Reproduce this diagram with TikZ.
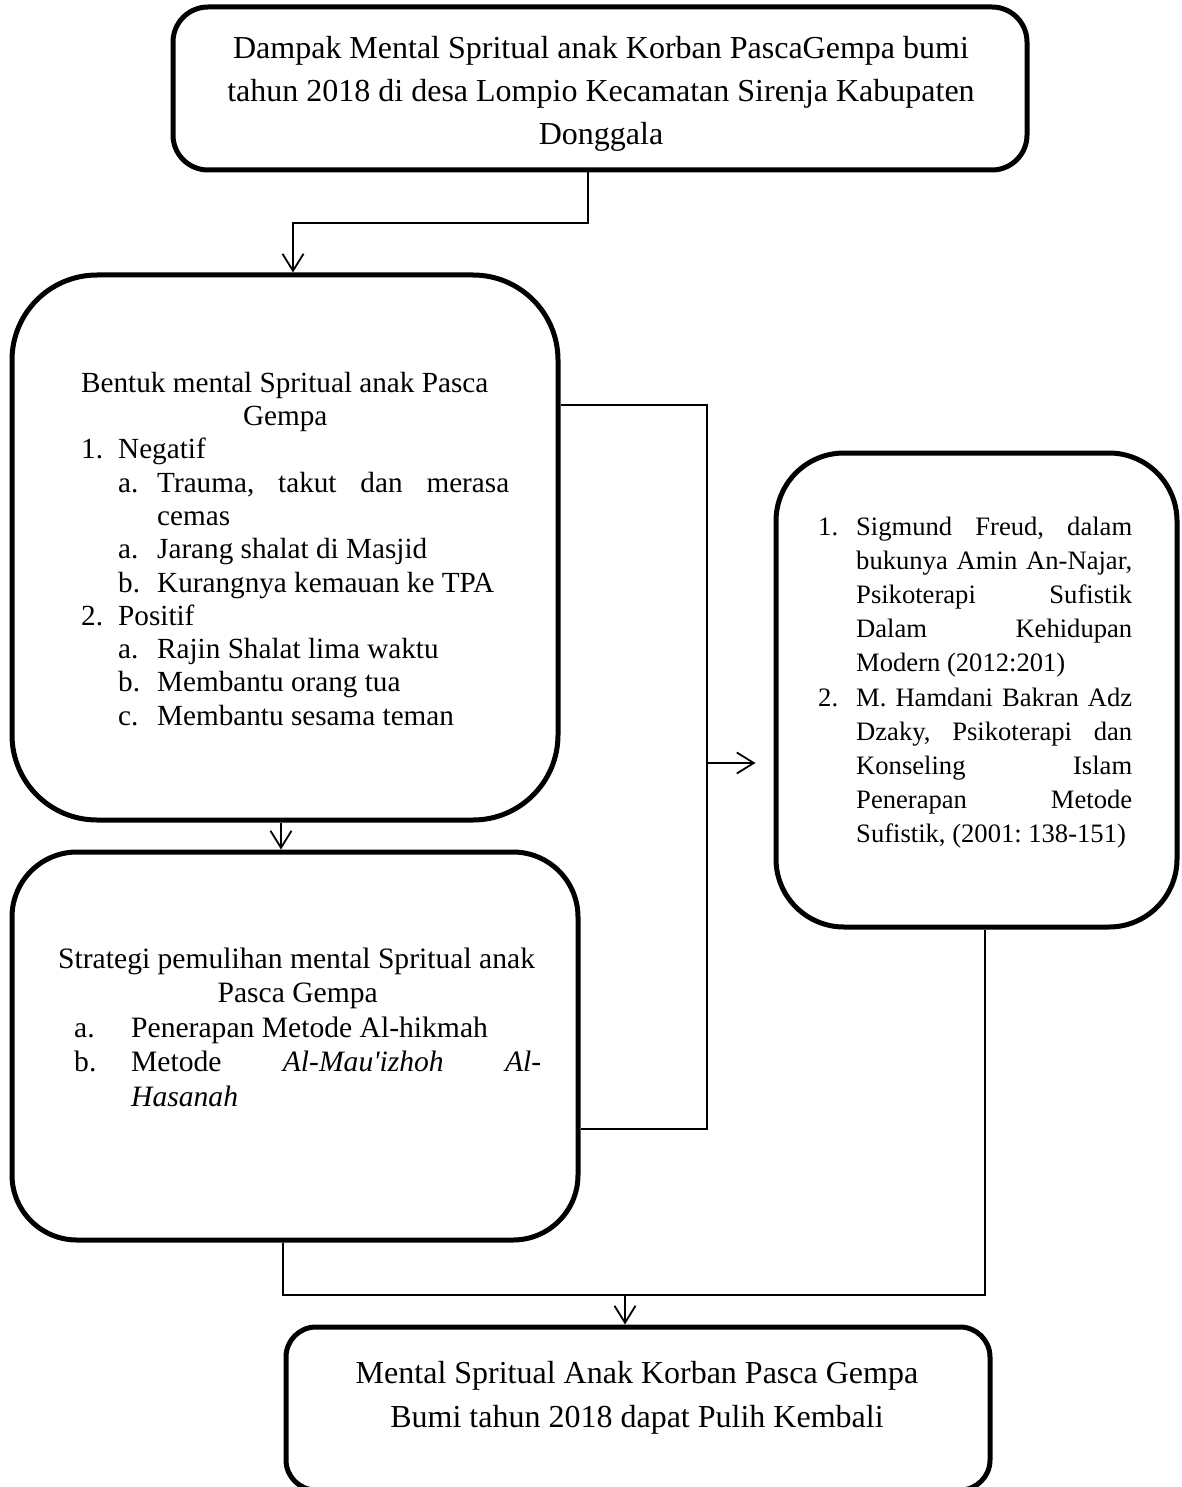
\documentclass[tikz,border=0pt]{standalone}
\usepackage{fontspec}
\setmainfont{Liberation Serif}
\usetikzlibrary{arrows.meta}
\frenchspacing

\tikzset{
  roundbox/.style={draw, line width=5pt, inner sep=0pt},
  wire/.style={line width=1.8pt},
  wirearrow/.style={wire, -{Straight Barb[length=17pt,width=21pt]}},
  boxtext/.style={inner sep=0pt, execute at begin node={\spaceskip=0pt\xspaceskip=0pt}},
}

\begin{document}
\begin{tikzpicture}[x=1pt,y=-1pt]
            \useasboundingbox (0,0) rectangle (1181,1487);
            \node[roundbox, rounded corners=35pt, minimum width=854pt, minimum height=163pt] (dampak) at (600,88.5) {};
            \node[roundbox, rounded corners=85pt, minimum width=546pt, minimum height=545pt] (bentuk) at (285,547.5) {};
            \node[roundbox, rounded corners=65pt, minimum width=566pt, minimum height=388pt] (strategi) at (295,1046) {};
            \node[roundbox, rounded corners=68pt, minimum width=401pt, minimum height=474pt] (teori) at (976.5,690) {};
            \node[roundbox, rounded corners=30pt, minimum width=704pt, minimum height=163pt] (pulih) at (638,1408.5) {};
            \node[boxtext, text width=854pt, anchor=north, font=\fontsize{32}{43}\selectfont] (dampakTxt) at (601,27.9)
                {\centering\strut Dampak Mental Spritual anak Korban PascaGempa bumi\\
                 tahun 2018 di desa Lompio Kecamatan Sirenja Kabupaten\\
                 Donggala\par};
            \node[boxtext, text width=440pt, anchor=north west, font=\fontsize{29.2}{33.3}\selectfont] (bentukTxt) at (81,368.7)
                {\strut Bentuk mental Spritual anak Pasca\\
                 \makebox[408pt][c]{Gempa}\\
                 \makebox[37pt][l]{1.}Negatif\\
                 \hspace*{37pt}\makebox[39pt][l]{a.}\makebox[352pt][s]{Trauma, takut dan merasa}\\
                 \hspace*{76pt}cemas\\
                 \hspace*{37pt}\makebox[39pt][l]{a.}Jarang shalat di Masjid\\
                 \hspace*{37pt}\makebox[39pt][l]{b.}Kurangnya kemauan ke TPA\\
                 \makebox[37pt][l]{2.}Positif\\
                 \hspace*{37pt}\makebox[39pt][l]{a.}Rajin Shalat lima waktu\\
                 \hspace*{37pt}\makebox[39pt][l]{b.}Membantu orang tua\\
                 \hspace*{37pt}\makebox[39pt][l]{c.}Membantu sesama teman};
            \node[boxtext, text width=510pt, anchor=north west, font=\fontsize{29.6}{34.5}\selectfont] (strategiTxt) at (58,943.9)
                {\strut Strategi pemulihan mental Spritual anak\\
                 \makebox[479pt][c]{Pasca Gempa}\\
                 \hspace*{16pt}\makebox[57pt][l]{a.}Penerapan Metode Al-hikmah\\
                 \hspace*{16pt}\makebox[57pt][l]{b.}\makebox[410pt][s]{Metode \textit{Al-Mau\textquotesingle izhoh} \textit{Al-}}\\
                 \hspace*{73pt}\textit{Hasanah}};
            \node[boxtext, text width=330pt, anchor=north west, font=\fontsize{26.6}{34.2}\selectfont] (teoriTxt) at (818,511)
                {\strut\makebox[38pt][l]{1.}\makebox[276pt][s]{Sigmund Freud, dalam}\\
                 \hspace*{38pt}\makebox[276pt][s]{bukunya Amin An-Najar,}\\
                 \hspace*{38pt}\makebox[276pt][s]{Psikoterapi Sufistik}\\
                 \hspace*{38pt}\makebox[276pt][s]{Dalam Kehidupan}\\
                 \hspace*{38pt}Modern (2012:201)\\
                 \makebox[38pt][l]{2.}\makebox[276pt][s]{M. Hamdani Bakran Adz}\\
                 \hspace*{38pt}\makebox[276pt][s]{Dzaky, Psikoterapi dan}\\
                 \hspace*{38pt}\makebox[276pt][s]{Konseling Islam}\\
                 \hspace*{38pt}\makebox[276pt][s]{Penerapan Metode}\\
                 \hspace*{38pt}Sufistik, (2001: 138-151)};
            \node[boxtext, text width=704pt, anchor=north, font=\fontsize{32}{44}\selectfont] (pulihTxt) at (637,1352.2)
                {\centering\strut Mental Spritual Anak Korban Pasca Gempa\\
                 Bumi tahun 2018 dapat Pulih Kembali\par};
            \coordinate (j1) at (588,223);
            \coordinate (j2) at (707,405);
            \coordinate (j3) at (707,1129);
            \coordinate (j4) at (707,763);
            \coordinate (j5) at (283,1295);
            \coordinate (j6) at (985,1295);
            \coordinate (j7) at (625,1295);
            \draw[wirearrow] (dampak.south -| j1) -- (j1) -| ([xshift=8pt]bentuk.north);
            \draw[wirearrow] ([xshift=-4pt]bentuk.south) -- ([xshift=-4pt]bentuk.south |- strategi.north);
            \draw[wire] (bentuk.east |- j2) -- (j2) -- (j3) -- (strategi.east |- j3);
            \draw[wirearrow] (j4) -- ([xshift=-18pt]teori.west |- j4);
            \draw[wire] (strategi.south -| j5) -- (j5) -- (j6) -- (teori.south -| j6);
            \draw[wirearrow] (j7) -- (pulih.north -| j7);
        \end{tikzpicture}
\end{document}
